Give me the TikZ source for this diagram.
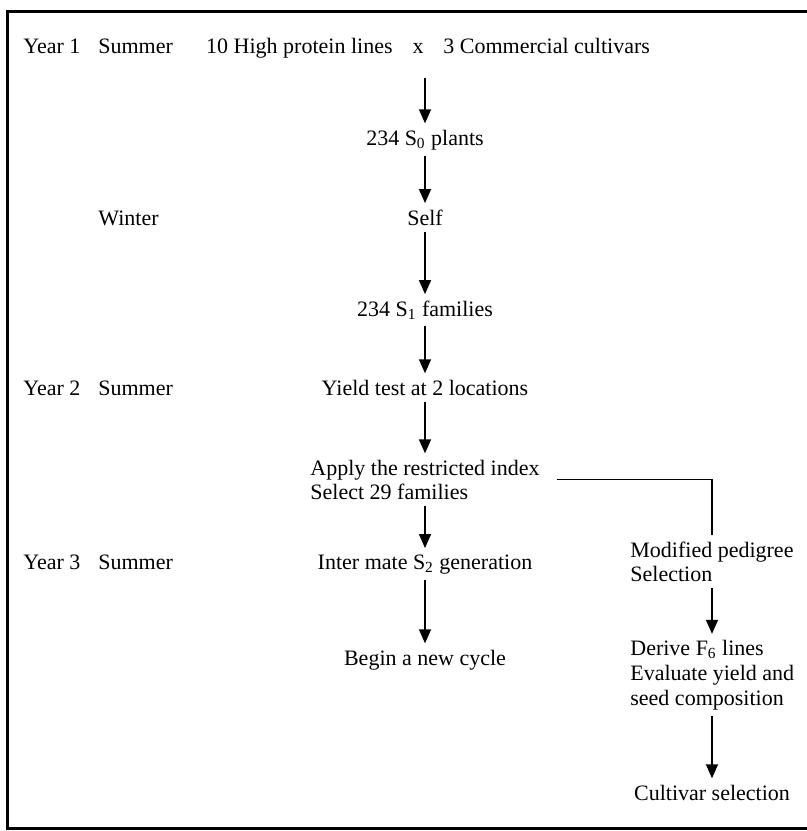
\documentclass[tikz,border=0pt]{standalone}
\usepackage{fontspec}
\setmainfont{Liberation Serif}
\usetikzlibrary{arrows.meta}
\tikzset{
	stage/.style={inner sep=3pt, font=\fontsize{11}{12}\selectfont},
	stack/.style={stage, align=left},
	flow/.style={line width=0.75pt, -{Triangle[length=7pt,width=6pt]}},
	branch/.style={line width=0.75pt},
	frame/.style={line width=1.5pt}
}

\begin{document}
\begin{tikzpicture}[x=0.5pt, y=-0.5pt]
		%%%%% START %%%%%
		\useasboundingbox (0,0) rectangle (807,831);
		\draw[frame] (812,11) -- (7,11) -- (7,828) -- (812,828);
		
		% seasons
		\node[stage, anchor=base west] (yrone) at (17,53) {Year 1};
		\node[stage, anchor=base west] (sumone) at (92,53) {Summer};
		\node[stage, anchor=base west] (winone) at (92,225) {Winter};
		\node[stage, anchor=base west] (yrtwo) at (17,395) {Year 2};
		\node[stage, anchor=base west] (sumtwo) at (92,395) {Summer};
		\node[stage, anchor=base west] (yrthree) at (17,569) {Year 3};
		\node[stage, anchor=base west] (sumthree) at (92,569) {Summer};
		
		% recurrent cycle
		\node[stage, anchor=base east] (hipro) at (399,53) {10 High protein lines};
		\node[stage, anchor=base] (cross) at (418,53) {x};
		\node[stage, anchor=base west] (comm) at (437,53) {3 Commercial cultivars};
		\node[stage, anchor=base] (plants) at (425,145) {234 S\textsubscript{0} plants};
		\node[stage, anchor=base] (self) at (425,225) {Self};
		\node[stage, anchor=base] (sfam) at (425,316) {234 S\textsubscript{1} families};
		\node[stage, anchor=base] (yield) at (425,395) {Yield test at 2 locations};
		\node[stack] (restr) at (425,479.5) {Apply the restricted index\\Select 29 families};
		\node[stage, anchor=base] (intermate) at (425,569) {Inter mate S\textsubscript{2} generation};
		\node[stage, anchor=base] (newcyc) at (425,665) {Begin a new cycle};
		
		% pedigree branch
		\node[stack, anchor=west] (modped) at (624,561.5) {Modified pedigree\\Selection};
		\node[stack, anchor=west, font=\fontsize{11}{12.4}\selectfont] (derive) at (624,675) {Derive F\textsubscript{6} lines\\Evaluate yield and\\seed composition};
		\node[stage, anchor=base] (cultsel) at (712,800) {Cultivar selection};
		
		\draw[flow, shorten <=9.5pt] (cross.south -| plants) -- (plants);
		\draw[flow] (plants) -- (self);
		\draw[flow] (self) -- (sfam);
		\draw[flow] (sfam) -- (yield);
		\draw[flow] (yield) -- (restr);
		\draw[flow] (restr) -- (intermate);
		\draw[flow] (intermate) -- (newcyc);
		
		\draw[branch, shorten <=5.5pt] (restr.east) -- (restr.east -| cultsel) -- (modped.north -| cultsel);
		\draw[flow] (modped.south -| cultsel) -- (derive.north -| cultsel);
		\draw[flow] (derive.south -| cultsel) -- (cultsel);
		
		%%%%% END %%%%%
\end{tikzpicture}
\end{document}
